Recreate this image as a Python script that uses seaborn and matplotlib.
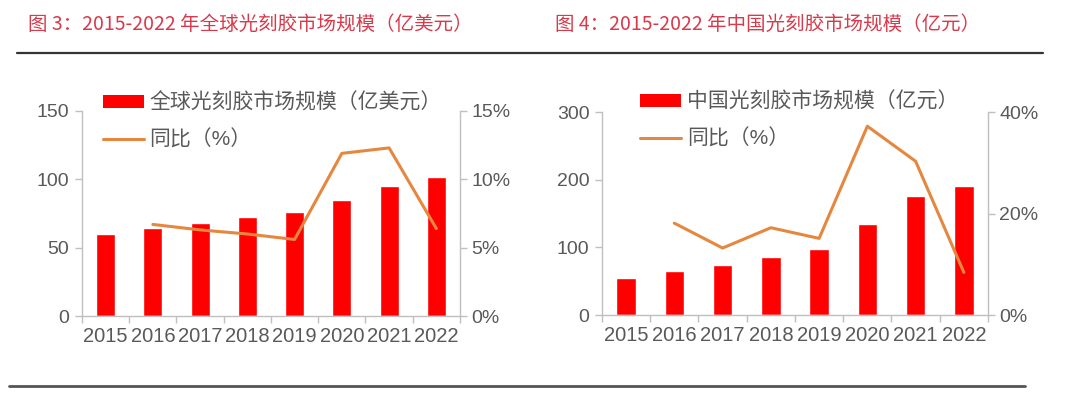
import numpy as np
import pandas as pd
import matplotlib
matplotlib.use('Agg')
import matplotlib.pyplot as plt
import seaborn as sns
from matplotlib.patches import Patch
from matplotlib.lines import Line2D

# data
years = ['2015', '2016', '2017', '2018', '2019', '2020', '2021', '2022']
global_size = [60.0, 64.2, 67.8, 72.2, 76.1, 84.9, 95.3, 101.4]
global_yoy = [np.nan, 6.7, 6.3, 6.0, 5.6, 11.9, 12.3, 6.4]
china_size = [54.5, 65.3, 73.6, 85.9, 98.2, 135.0, 176.0, 190.5]
china_yoy = [np.nan, 18.1, 13.2, 17.2, 15.1, 37.2, 30.3, 8.4]

BAR_RED = '#ff0000'
LINE_ORANGE = '#e5873e'
TITLE_RED = '#d83a4b'
TEXT_GRAY = '#595959'
SPINE_GRAY = '#bfbfbf'

sns.set_style('white')
plt.rcParams['font.family'] = ['Liberation Sans', 'Noto Sans CJK SC', 'DejaVu Sans']
plt.rcParams['axes.unicode_minus'] = False


def draw_panel(fig, rect, sizes, yoy, ymax, ystep, pmax, pstep, bar_label, leg_anchor):
    df = pd.DataFrame({'year': years, 'size': sizes, 'yoy': yoy})
    df['pos'] = np.arange(len(df))
    ax = fig.add_axes(rect)
    sns.barplot(data=df, x='year', y='size', color=BAR_RED, width=0.4,
                saturation=1, ax=ax, zorder=2)
    ax.set_xlim(-0.5, len(years) - 0.5)
    ax.set_ylim(0, ymax)
    ax.set_yticks(np.arange(0, ymax + 1, ystep))
    ax.set_xlabel('')
    ax.set_ylabel('')

    ax2 = ax.twinx()
    sns.lineplot(data=df, x='pos', y='yoy', color=LINE_ORANGE, linewidth=2.2, ax=ax2)
    ax2.set_ylim(0, pmax)
    ax2.set_yticks(np.arange(0, pmax + 0.1, pstep))
    ax2.set_yticklabels([f'{int(v)}%' for v in np.arange(0, pmax + 0.1, pstep)])
    ax2.set_xlabel('')
    ax2.set_ylabel('')
    ax2.set_xlim(-0.5, len(years) - 0.5)

    for a in (ax, ax2):
        for s in a.spines.values():
            s.set_visible(False)
    ax.spines['left'].set_visible(True)
    ax.spines['bottom'].set_visible(True)
    ax2.spines['right'].set_visible(True)
    for s in (ax.spines['left'], ax.spines['bottom'], ax2.spines['right']):
        s.set_color(SPINE_GRAY)
        s.set_linewidth(1.0)

    ax.tick_params(axis='y', direction='out', length=5, width=1, color=SPINE_GRAY,
                   labelsize=14, labelcolor=TEXT_GRAY, pad=4, left=True)
    ax2.tick_params(axis='y', direction='out', length=5, width=1, color=SPINE_GRAY,
                    labelsize=14, labelcolor=TEXT_GRAY, pad=3, right=True)
    # category separators on x axis
    ax.set_xticks(np.arange(len(years)))
    ax.set_xticklabels(years)
    ax.set_xticks(np.arange(-0.5, len(years)), minor=True)
    ax.tick_params(axis='x', which='major', length=0, labelsize=14.5,
                   labelcolor=TEXT_GRAY, pad=8)
    ax.tick_params(axis='x', which='minor', direction='out', length=5, width=1,
                   color=SPINE_GRAY, bottom=True)

    handles = [Patch(facecolor=BAR_RED, edgecolor='none'),
               Line2D([], [], color=LINE_ORANGE, linewidth=2.2)]
    ax2.legend(handles, [bar_label, '同比（%）'], loc='upper left',
               bbox_to_anchor=leg_anchor, frameon=False, fontsize=15,
               handlelength=2.0, handleheight=0.55, handletextpad=0.25,
               labelspacing=0.8, borderpad=0, borderaxespad=0,
               labelcolor=TEXT_GRAY)
    return ax, ax2


fig = plt.figure(figsize=(10.8, 3.96), dpi=100)

draw_panel(fig, [0.0759, 0.202, 0.35, 0.5177], global_size, global_yoy,
           150, 50, 15, 5, '全球光刻胶市场规模（亿美元）', (0.055, 1.09))
draw_panel(fig, [0.5574, 0.2045, 0.3574, 0.5126], china_size, china_yoy,
           300, 100, 40, 20, '中国光刻胶市场规模（亿元）', (0.098, 1.10))

title_font = ['Noto Sans CJK SC', 'DejaVu Sans']
fig.text(0.026, 0.939, '图 3：2015-2022 年全球光刻胶市场规模（亿美元）',
         color=TITLE_RED, fontsize=14, va='center', ha='left',
         family=title_font, fontweight='medium')
fig.text(0.514, 0.939, '图 4：2015-2022 年中国光刻胶市场规模（亿元）',
         color=TITLE_RED, fontsize=14, va='center', ha='left',
         family=title_font, fontweight='medium')

# rules under the titles and at the bottom
fig.add_artist(Line2D([0.016, 0.966], [0.866, 0.866], color='#333333', linewidth=1.6))
fig.add_artist(Line2D([0.008, 0.949], [0.025, 0.025], color='#555555', linewidth=2.0))

fig.savefig('out.png', dpi=100)
